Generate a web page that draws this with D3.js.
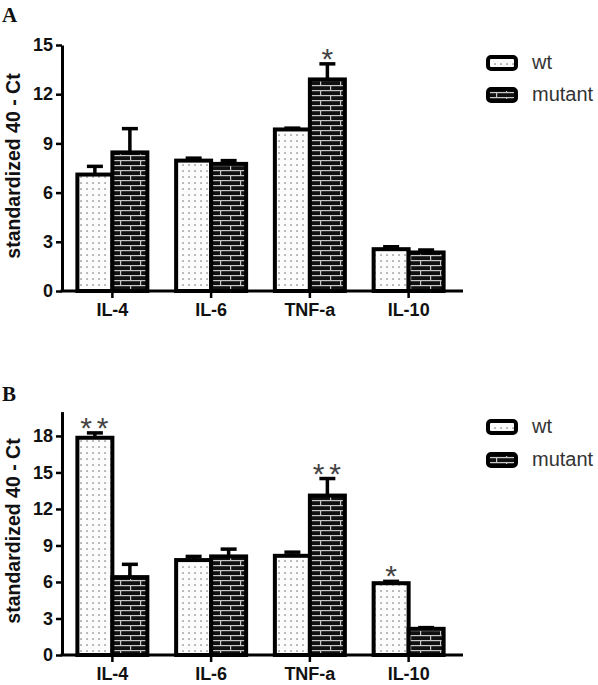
<!DOCTYPE html>
<html><head><meta charset="utf-8">
<script src="https://cdn.jsdelivr.net/npm/d3@7"></script>
<style>body{margin:0;background:#fff}svg{display:block}</style>
</head><body>
<svg id="c" width="598" height="685"></svg>
<script>
const categories = ["IL-4","IL-6","TNF-a","IL-10"];
const seriesNames = ["wt","mutant"];
// Panel A
const wtA = [7.1, 7.95, 9.85, 2.55];
const wtErrA = [0.5, 0.15, 0.08, 0.15];
const mutA = [8.45, 7.75, 12.9, 2.35];
const mutErrA = [1.45, 0.2, 0.95, 0.15];
const sigWtA = ["", "", "", ""];
const sigMutA = ["", "", "*", ""];
const ticksA = [0, 3, 6, 9, 12, 15];
// Panel B
const wtB = [17.85, 7.8, 8.15, 5.9];
const wtErrB = [0.4, 0.3, 0.3, 0.15];
const mutB = [6.4, 8.1, 13.1, 2.15];
const mutErrB = [1.05, 0.6, 1.4, 0.1];
const sigWtB = ["**", "", "", "*"];
const sigMutB = ["", "", "**", ""];
const ticksB = [0, 3, 6, 9, 12, 15, 18];
const yTitle = "standardized 40 - Ct";

const svg = d3.select("#c");
const defs = svg.append("defs");
// dots pattern
const pd = defs.append("pattern").attr("id","dots").attr("patternUnits","userSpaceOnUse")
  .attr("width",6).attr("height",6);
pd.append("rect").attr("width",6).attr("height",6).attr("fill","#fcfcfc");
pd.append("rect").attr("x",2.3).attr("y",2.3).attr("width",1.5).attr("height",1.5).attr("fill","#8a8a8a");
// bricks pattern
const pb = defs.append("pattern").attr("id","bricks").attr("patternUnits","userSpaceOnUse")
  .attr("width",20).attr("height",10);
pb.append("rect").attr("width",20).attr("height",10).attr("fill","#111");
const mortar = "#c8c8c8";
pb.append("rect").attr("x",0).attr("y",0).attr("width",20).attr("height",1.2).attr("fill",mortar);
pb.append("rect").attr("x",0).attr("y",5).attr("width",20).attr("height",1.2).attr("fill",mortar);
pb.append("rect").attr("x",0).attr("y",0).attr("width",1.2).attr("height",5).attr("fill",mortar);
pb.append("rect").attr("x",10).attr("y",5).attr("width",1.2).attr("height",5).attr("fill",mortar);
const fills = {wt:"url(#dots)", mutant:"url(#bricks)"};

function panel(opt){
  const g = svg.append("g");
  const y = d3.scaleLinear().domain([0, opt.ymax]).range([opt.y0, opt.y1]);
  const x0 = d3.scaleBand().domain(categories).range([63, 458]);
  const x1 = d3.scaleBand().domain(seriesNames).range([-35, 35]);
  const data = [];
  categories.forEach((c,i)=>{
    data.push({c, s:"wt", v:opt.wt[i], e:opt.wtErr[i], sig:opt.sigWt[i]});
    data.push({c, s:"mutant", v:opt.mut[i], e:opt.mutErr[i], sig:opt.sigMut[i]});
  });
  const cx = d => x0(d.c) + x0.bandwidth()/2;
  const mid = d => cx(d) + x1(d.s) + x1.bandwidth()/2;
  // error bars
  const eb = g.selectAll(".eb").data(data).enter().append("g");
  eb.append("line")
    .attr("x1", mid).attr("x2", mid)
    .attr("y1", d => y(d.v)).attr("y2", d => y(d.v + d.e))
    .attr("stroke","#000").attr("stroke-width",3.5);
  eb.append("line")
    .attr("x1", d => mid(d) - 8).attr("x2", d => mid(d) + 8)
    .attr("y1", d => y(d.v + d.e)).attr("y2", d => y(d.v + d.e))
    .attr("stroke","#000").attr("stroke-width",3.5);
  // bars
  g.selectAll(".bar").data(data).enter().append("rect")
    .attr("x", d => cx(d) + x1(d.s))
    .attr("width", x1.bandwidth())
    .attr("y", d => y(d.v))
    .attr("height", d => y(0) - y(d.v))
    .attr("fill", d => fills[d.s])
    .attr("stroke","#000").attr("stroke-width",4);
  // significance
  g.selectAll(".sig").data(data.filter(d=>d.sig)).enter().append("text")
    .attr("x", d => mid(d) + (d.sig.length>1?2:0))
    .attr("y", d => y(d.v + d.e) + 5)
    .attr("text-anchor","middle")
    .attr("font-family","Liberation Sans, Arial, sans-serif")
    .attr("font-size",30).attr("fill","#444")
    .attr("letter-spacing", d => d.sig.length>1?"5px":"0px")
    .text(d => d.sig);
  // y axis
  const ya = g.append("g").attr("transform","translate(62,0)")
    .call(d3.axisLeft(y).tickValues(opt.ticks).tickSize(6).tickPadding(3).tickSizeOuter(0));
  ya.select(".domain").attr("stroke","#000").attr("stroke-width",3);
  ya.selectAll(".tick line").attr("stroke","#000").attr("stroke-width",2.5);
  ya.selectAll(".tick text").attr("font-family","Liberation Sans, Arial, sans-serif")
    .attr("font-weight","bold").attr("font-size",18).attr("fill","#111");
  // x axis
  const xa = g.append("g").attr("transform",`translate(0,${opt.y0})`)
    .call(d3.axisBottom(x0).tickSize(7).tickPadding(8).tickSizeOuter(0));
  xa.select(".domain").attr("d", `M60.5,0H463`).attr("stroke","#000").attr("stroke-width",3);
  xa.selectAll(".tick line").attr("stroke","#000").attr("stroke-width",2.5);
  xa.selectAll(".tick text").attr("font-family","Liberation Sans, Arial, sans-serif")
    .attr("font-weight","bold").attr("font-size",18).attr("fill","#111")
    .attr("dy", null).attr("y", opt.labelY - opt.y0);
  // y title
  g.append("text")
    .attr("transform", `translate(20,${opt.titleY}) rotate(-90)`)
    .attr("text-anchor","middle")
    .attr("font-family","Liberation Sans, Arial, sans-serif")
    .attr("font-weight","bold").attr("font-size",19.5).attr("fill","#111")
    .text(yTitle);
  // panel letter
  g.append("text").attr("x",2).attr("y",opt.letterY)
    .attr("font-family","Liberation Serif, Times New Roman, serif")
    .attr("font-weight","bold").attr("font-size",21).attr("fill","#111")
    .text(opt.letter);
  // legend
  const lg = g.append("g").selectAll("g").data(seriesNames).enter().append("g")
    .attr("transform",(d,i)=>`translate(486,${opt.legY + i*opt.legStep})`);
  lg.append("rect").attr("x",2).attr("y",2).attr("width",28).attr("height",12).attr("rx",3)
    .attr("fill", d => fills[d]).attr("stroke","#000").attr("stroke-width",4);
  lg.append("text").attr("x",46).attr("y",14)
    .attr("font-family","Liberation Sans, Arial, sans-serif")
    .attr("font-size",20).attr("fill","#333").text(d=>d);
}

panel({ymax:15, y0:291, y1:45, ticks:ticksA, wt:wtA, wtErr:wtErrA, mut:mutA, mutErr:mutErrA,
  sigWt:sigWtA, sigMut:sigMutA, labelY:316, titleY:166, letter:"A", letterY:22, legY:55, legStep:32});
panel({ymax:20, y0:655, y1:411.6, ticks:ticksB, wt:wtB, wtErr:wtErrB, mut:mutB, mutErr:mutErrB,
  sigWt:sigWtB, sigMut:sigMutB, labelY:680, titleY:531, letter:"B", letterY:401, legY:419, legStep:33});
</script>
</body></html>
